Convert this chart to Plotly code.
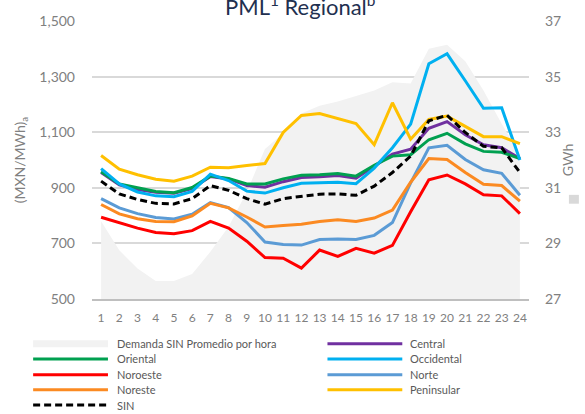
import plotly.graph_objects as go

# ---------------- data ----------------
hours = ["1", "2", "3", "4", "5", "6", "7", "8", "9", "10", "11", "12",
         "13", "14", "15", "16", "17", "18", "19", "20", "21", "22", "23", "24"]

demanda = [29.8, 28.75, 28.1, 27.65, 27.65, 27.9, 28.7, 29.6, 30.85, 32.4, 32.96, 33.67,
           33.95, 34.1, 34.3, 34.5, 34.8, 34.75, 36.0, 36.15, 35.55, 34.5, 33.3, 32.2]

central = [955, 911, 894, 884, 880, 897, 941, 932, 908, 902, 922, 937,
           940, 944, 935, 979, 1021, 1039, 1114, 1138, 1091, 1055, 1044, 1005]
oriental = [958, 914, 900, 887, 882, 901, 942, 934, 914, 914, 932, 945,
            947, 951, 942, 981, 1014, 1019, 1073, 1096, 1058, 1031, 1028, 1005]
occidental = [969, 914, 885, 871, 868, 887, 949, 926, 888, 881, 900, 916,
              918, 920, 915, 971, 1044, 1129, 1346, 1382, 1285, 1186, 1188, 1000]
noroeste = [794, 775, 755, 739, 735, 746, 779, 755, 708, 649, 647, 611,
            676, 653, 682, 665, 693, 814, 929, 946, 914, 875, 871, 807]
norte = [861, 828, 807, 793, 788, 805, 847, 829, 775, 705, 696, 694,
         714, 716, 714, 729, 775, 918, 1044, 1053, 1002, 965, 952, 873]
noreste = [840, 806, 789, 779, 778, 799, 844, 828, 795, 759, 764, 769,
           779, 785, 779, 791, 820, 920, 1005, 1002, 955, 913, 908, 852]
peninsular = [1016, 967, 947, 931, 924, 942, 974, 972, 980, 987, 1099, 1160,
              1167, 1149, 1131, 1055, 1206, 1075, 1146, 1158, 1120, 1084, 1084, 1059]
sin = [924, 878, 858, 844, 842, 861, 908, 891, 861, 841, 861, 870,
       877, 878, 873, 906, 955, 1014, 1141, 1161, 1099, 1049, 1044, 955]

mxn_ticks = [500, 700, 900, 1100, 1300, 1500]
gwh_ticks = [27, 29, 31, 33, 35, 37]

# ---------------- styles ----------------
FONT = "Lato"
TICK_COLOR = "#808080"
LEG_COLOR = "#595959"
AREA_COLOR = "#F2F2F2"

series = [
    ("Central", central, "#7030A0", "solid"),
    ("Oriental", oriental, "#00A050", "solid"),
    ("Occidental", occidental, "#00B0F0", "solid"),
    ("Noroeste", noroeste, "#FF0000", "solid"),
    ("Norte", norte, "#5B9BD5", "solid"),
    ("Noreste", noreste, "#FB8A22", "solid"),
    ("Peninsular", peninsular, "#FFC000", "solid"),
    ("SIN", sin, "#000000", "7px,4px"),
]

fig = go.Figure()

fig.add_trace(go.Scatter(
    x=hours, y=demanda, name="Demanda SIN Promedio por hora",
    mode="lines", fill="tozeroy", fillcolor=AREA_COLOR,
    line=dict(width=0, color=AREA_COLOR), yaxis="y", showlegend=False,
    hoverinfo="skip"))

for name, vals, color, dash in series:
    fig.add_trace(go.Scatter(
        x=hours, y=vals, name=name, mode="lines", yaxis="y2",
        line=dict(color=color, width=3, dash=dash), showlegend=False))

# ---------------- layout geometry (px) ----------------
W, H = 585, 414
X_L, X_R, Y_T, Y_B = 92, 530, 16, 299


def px(x):
    return (x - X_L) / (X_R - X_L)


def py(y):
    return (Y_B - y) / (Y_B - Y_T)


shapes = []
annotations = []

# manual legend (two columns)
legend_items = [("Demanda SIN Promedio por hora", AREA_COLOR, "area")] + \
    [(n, c, d) for n, _, c, d in series]
row_y = [344.5, 360, 376, 391.5, 407]
cols = [(33, 108, 115), (328, 403, 409)]
for i, (name, color, kind) in enumerate(legend_items):
    r, c = divmod(i, 2)
    x0, x1, xt = cols[c]
    yc = row_y[r]
    if kind == "area":
        shapes.append(dict(type="rect", xref="paper", yref="paper",
                           x0=px(x0), x1=px(x1), y0=py(yc + 3.5), y1=py(yc - 3.5),
                           fillcolor=color, line=dict(width=0)))
    else:
        shapes.append(dict(type="line", xref="paper", yref="paper",
                           x0=px(x0), x1=px(x1), y0=py(yc), y1=py(yc),
                           line=dict(color=color, width=3, dash=kind)))
    annotations.append(dict(text=name, xref="paper", yref="paper",
                            x=px(xt), y=py(yc), xanchor="left", yanchor="middle",
                            showarrow=False,
                            font=dict(family=FONT, size=11, color=LEG_COLOR)))

# small cut-off legend key on the right edge
shapes.append(dict(type="rect", xref="paper", yref="paper",
                   x0=px(570), x1=px(580), y0=py(202), y1=py(193),
                   fillcolor="#D9D9D9", line=dict(width=0)))

# title
annotations.append(dict(text="PML<sup>1</sup> Regional<sup>b</sup>",
                        xref="paper", yref="paper", x=px(300.5), y=py(17),
                        xanchor="center", yanchor="bottom", showarrow=False,
                        font=dict(family=FONT, size=22, color="#1F3050")))

fig.update_layout(
    width=W, height=H,
    margin=dict(l=X_L, r=W - X_R, t=Y_T, b=H - Y_B, pad=0),
    paper_bgcolor="white", plot_bgcolor="white",
    showlegend=False,
    shapes=shapes, annotations=annotations,
    xaxis=dict(type="category", range=[-0.5, 23.5], showgrid=False,
               showline=True, linecolor="#BFBFBF", linewidth=2,
               ticks="", ticklabelstandoff=7,
               tickfont=dict(family=FONT, size=12, color=TICK_COLOR),
               zeroline=False),
    yaxis=dict(side="right", range=[27, 37], tickvals=gwh_ticks,
               showgrid=False, zeroline=False, ticks="",
               ticklabelstandoff=15,
               tickfont=dict(family=FONT, size=14, color=TICK_COLOR),
               title=dict(text="GWh", standoff=2,
                          font=dict(family=FONT, size=14, color=TICK_COLOR))),
    yaxis2=dict(side="left", overlaying="y", range=[500, 1500],
                tickvals=mxn_ticks, tickformat=",",
                showgrid=True, gridcolor="#D9D9D9", gridwidth=2,
                zeroline=False, ticks="", ticklabelstandoff=16,
                tickfont=dict(family=FONT, size=14, color=TICK_COLOR),
                title=dict(text="(MXN/MWh)<sub>a</sub>", standoff=10,
                           font=dict(family=FONT, size=14, color=TICK_COLOR))),
)

fig.write_html("out.html",
               config={"displayModeBar": False},
               post_script="document.body.style.margin='0px';"
                           "document.body.style.padding='0px';")
